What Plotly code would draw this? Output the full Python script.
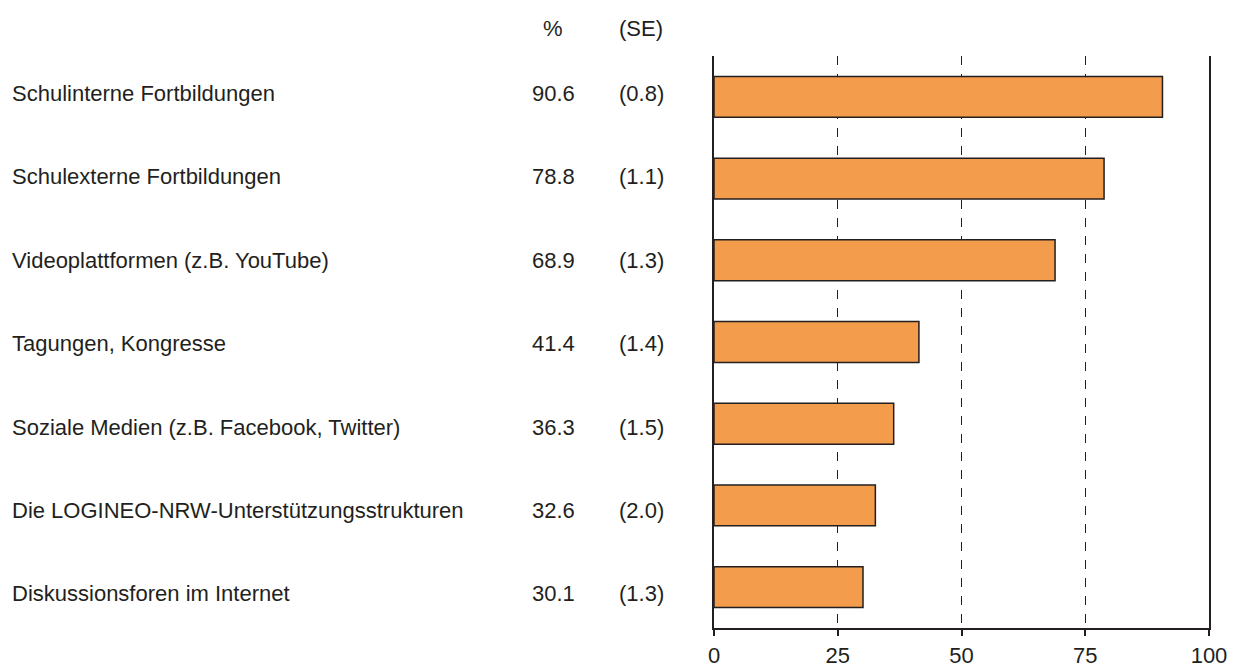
import plotly.graph_objects as go

categories = [
    "Schulinterne Fortbildungen",
    "Schulexterne Fortbildungen",
    "Videoplattformen (z.B. YouTube)",
    "Tagungen, Kongresse",
    "Soziale Medien (z.B. Facebook, Twitter)",
    "Die LOGINEO-NRW-Unterstützungsstrukturen",
    "Diskussionsforen im Internet",
]
percent = [90.6, 78.8, 68.9, 41.4, 36.3, 32.6, 30.1]
se = [0.8, 1.1, 1.3, 1.4, 1.5, 2.0, 1.3]
x_ticks = [0, 25, 50, 75, 100]

W, H = 1241, 671
ML, MR, MT, MB = 714, 32, 56, 43
PW = W - ML - MR
PH = H - MT - MB
TEXT = "#231f20"
FONT = "Liberation Sans, Arial, sans-serif"
FS = 22
# text rows are spaced slightly wider than the bar rows in the original
TEXT_ROW_START = -0.040
TEXT_ROW_DRIFT = 0.0204

def px_to_paper_x(px):
    return (px - ML) / PW

def py_to_paper_y(py):
    return (H - MB - py) / PH

fig = go.Figure()
fig.add_trace(go.Bar(
    y=list(range(len(categories))), x=percent, orientation="h",
    marker=dict(color="#F39C4C", line=dict(color=TEXT, width=1.5)),
    width=0.5, customdata=categories,
    hovertemplate="%{customdata}: %{x}<extra></extra>",
))

ann = []
for i, (c, p, s) in enumerate(zip(categories, percent, se)):
    ty = i + TEXT_ROW_START + TEXT_ROW_DRIFT * i
    ann.append(dict(x=px_to_paper_x(10), xref="paper", y=ty, yref="y", text=c,
                    xanchor="left", yanchor="middle", showarrow=False))
    ann.append(dict(x=px_to_paper_x(553), xref="paper", y=ty, yref="y", text=f"{p:.1f}",
                    xanchor="center", yanchor="middle", showarrow=False))
    ann.append(dict(x=px_to_paper_x(641), xref="paper", y=ty, yref="y", text=f"({s:.1f})",
                    xanchor="center", yanchor="middle", showarrow=False))
ann.append(dict(x=px_to_paper_x(553), xref="paper", y=py_to_paper_y(29), yref="paper",
                text="%", xanchor="center", yanchor="middle", showarrow=False))
ann.append(dict(x=px_to_paper_x(641), xref="paper", y=py_to_paper_y(29), yref="paper",
                text="(SE)", xanchor="center", yanchor="middle", showarrow=False))

fig.update_layout(
    width=W, height=H,
    margin=dict(l=ML, r=MR, t=MT, b=MB, pad=0, autoexpand=False),
    paper_bgcolor="white", plot_bgcolor="white",
    font=dict(family=FONT, size=FS, color=TEXT),
    showlegend=False,
    annotations=ann,
    xaxis=dict(range=[0, 100], tickvals=x_ticks, ticks="outside", ticklen=6,
               tickcolor=TEXT, tickwidth=1.5, automargin=False,
               showline=True, linecolor=TEXT, linewidth=1.5, mirror=False,
               showgrid=True, gridcolor=TEXT, gridwidth=1.2, griddash="dash",
               zeroline=False, tickfont=dict(size=FS, color=TEXT), ticklabelstandoff=1,
               fixedrange=True),
    yaxis=dict(range=[len(categories) - 0.5, -0.5], showticklabels=False, ticks="",
               automargin=False,
               showline=True, linecolor=TEXT, linewidth=1.5, mirror=True,
               showgrid=False, zeroline=False, fixedrange=True),
)
fig.write_html("out.html", config={"displayModeBar": False},
               post_script="document.body.style.margin='0';document.body.style.overflow='hidden';")
